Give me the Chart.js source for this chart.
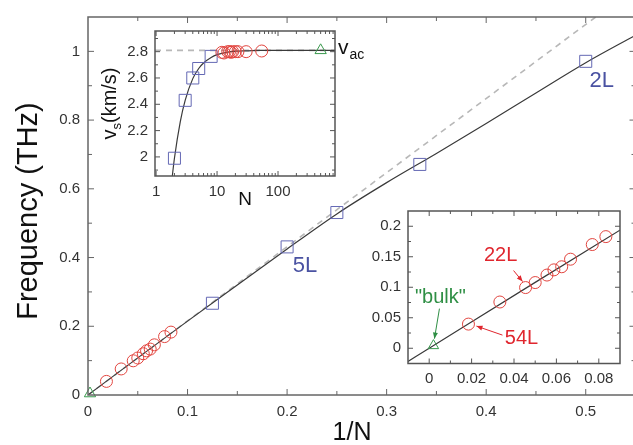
<!DOCTYPE html>
<html><head><meta charset="utf-8">
<script src="https://cdn.jsdelivr.net/npm/chart.js@4.4.1/dist/chart.umd.min.js"></script>
<style>
html,body{margin:0;padding:0;background:#fff;overflow:hidden;width:633px;height:445px;}
#wrap{position:relative;width:633px;height:445px;overflow:hidden;background:#fff;}
canvas{position:absolute;display:block;}
</style></head><body>
<div id="wrap">
<canvas id="main" width="645" height="445" style="left:0;top:0;width:645px;height:445px"></canvas>
<canvas id="in1" width="300" height="200" style="left:90px;top:15px;width:300px;height:200px"></canvas>
<canvas id="in2" width="273" height="200" style="left:360px;top:195px;width:273px;height:200px"></canvas>
</div>
<script>
// ---------- data ----------
const fewLayerN = [2, 3, 4, 5, 8];
const fewLayerFreq = [0.971, 0.671, 0.531, 0.431, 0.267];
const fewLayerVs = [1.99, 2.43, 2.60, 2.672, 2.764];
const manyLayerN = [12, 13, 15, 16, 17, 18, 20, 22, 30, 54];
const manyLayerFreq = [0.183, 0.170, 0.146, 0.1336, 0.1285, 0.120, 0.1077, 0.0995, 0.0758, 0.0396];
const manyLayerVs = [2.795, 2.79, 2.80, 2.80, 2.795, 2.80, 2.80, 2.80, 2.80, 2.805];
const bulkN = [500];
const bulkFreq = [0.0043];
const bulkVs = [2.81];
const fitInvN = [-0.01, 0, 0.05, 0.1, 0.15, 0.2, 0.25, 0.3, 0.35, 0.4, 0.45, 0.5, 0.55];
const fitFreq = [-0.0216, 0, 0.108, 0.215, 0.32, 0.425, 0.527, 0.618, 0.703, 0.79, 0.879, 0.967, 1.047];
const linearInvN = [0, 0.51];
const linearFreq = [0, 1.1];
const vsCurveN = [1.8, 2, 2.5, 3, 4, 5, 6, 8, 10, 15, 20, 30, 50, 100, 860];
const vsCurve = [1.81, 1.99, 2.27, 2.43, 2.595, 2.672, 2.714, 2.756, 2.777, 2.797, 2.803, 2.806, 2.809, 2.81, 2.81];
const vacN = [0.96, 860];
const vacLine = [2.81, 2.81];
// ---------- tick labels ----------
const mainXTicks = [0, 0.1, 0.2, 0.3, 0.4, 0.5];
const mainXMinor = [0.05, 0.15, 0.25, 0.35, 0.45];
const mainYTicks = [0, 0.2, 0.4, 0.6, 0.8, 1];
const mainYMinor = [0.1, 0.3, 0.5, 0.7, 0.9];
const in1XTicks = [1, 10, 100];
const in1XMinor = [2, 3, 4, 5, 6, 7, 8, 9, 20, 30, 40, 50, 60, 70, 80, 90, 200, 300, 400, 500, 600, 700, 800];
const in1YTicks = [2, 2.2, 2.4, 2.6, 2.8];
const in1YMinor = [1.9, 2.1, 2.3, 2.5, 2.7, 2.9];
const in2XTicks = [0, 0.02, 0.04, 0.06, 0.08];
const in2XMinor = [0.01, 0.03, 0.05, 0.07];
const in2YTicks = [0, 0.05, 0.1, 0.15, 0.2];
const in2YMinor = [0.025, 0.075, 0.125, 0.175];

const FONT = "'Liberation Sans', Arial, Helvetica, sans-serif";
const RED = '#e2453f', BLUE = '#6468b4', GREEN = '#3a9a4e';
const inv = n => 1 / n;
const pts = (xs, ys, fx) => xs.map((x, i) => ({x: fx ? fx(x) : x, y: ys[i]}));
const fmt = v => String(+(+v).toFixed(3));

function makeFrame(name, c) {
  return {
    id: 'frame_' + name,
    beforeDraw(chart) {
      if (!c.fill) return;
      const {ctx, chartArea: a} = chart;
      ctx.save(); ctx.fillStyle = '#fff';
      ctx.fillRect(a.left, a.top, a.right - a.left, a.bottom - a.top);
      ctx.restore();
    },
    afterDatasetsDraw(chart) {
      const {ctx, chartArea: a, scales} = chart;
      const x = scales.x, y = scales.y;
      ctx.save();
      ctx.strokeStyle = c.color; ctx.lineWidth = c.lw;
      ctx.strokeRect(a.left, a.top, a.right - a.left, a.bottom - a.top);
      ctx.lineWidth = 1;
      ctx.beginPath();
      const tx = (vals, len) => vals.forEach(v => {
        const p = x.getPixelForValue(v);
        if (p < a.left + 1 || p > a.right - 1) return;
        ctx.moveTo(p, a.bottom); ctx.lineTo(p, a.bottom - len);
        ctx.moveTo(p, a.top); ctx.lineTo(p, a.top + len);
      });
      const ty = (vals, len) => vals.forEach(v => {
        const p = y.getPixelForValue(v);
        if (p < a.top + 1 || p > a.bottom - 1) return;
        ctx.moveTo(a.left, p); ctx.lineTo(a.left + len, p);
        ctx.moveTo(a.right, p); ctx.lineTo(a.right - len, p);
      });
      tx(c.xMajor, c.major); tx(c.xMinor, c.minor);
      ty(c.yMajor, c.major); ty(c.yMinor, c.minor);
      ctx.stroke();
      ctx.restore();
    },
    afterDraw(chart) { if (c.annotate) c.annotate(chart); }
  };
}

function arrow(ctx, x1, y1, x2, y2, color) {
  ctx.save();
  ctx.strokeStyle = color; ctx.fillStyle = color; ctx.lineWidth = 1;
  ctx.beginPath(); ctx.moveTo(x1, y1); ctx.lineTo(x2, y2); ctx.stroke();
  const ang = Math.atan2(y2 - y1, x2 - x1), L = 6, W = 2.5;
  ctx.beginPath();
  ctx.moveTo(x2, y2);
  ctx.lineTo(x2 - L * Math.cos(ang) + W * Math.sin(ang), y2 - L * Math.sin(ang) - W * Math.cos(ang));
  ctx.lineTo(x2 - L * Math.cos(ang) - W * Math.sin(ang), y2 - L * Math.sin(ang) + W * Math.cos(ang));
  ctx.closePath(); ctx.fill();
  ctx.restore();
}

function fixedScale(type, min, max, ticksArr, fontSize, pad, fitSize, horizontal) {
  return {
    type, min, max,
    grid: {display: false, drawTicks: false},
    border: {display: false},
    ticks: {
      font: {family: FONT, size: fontSize}, color: '#333', padding: pad,
      autoSkip: false, maxRotation: 0, includeBounds: false,
      callback: v => fmt(v)
    },
    afterBuildTicks: s => { s.ticks = ticksArr.map(v => ({value: v})); },
    afterFit: s => { if (horizontal) s.height = fitSize; else s.width = fitSize; }
  };
}

const markerCircle = {pointStyle: 'circle', pointRadius: 6, borderColor: RED, backgroundColor: 'rgba(0,0,0,0)', pointBorderWidth: 1, showLine: false, clip: false};
const markerSquare = {pointStyle: 'rect', pointRadius: 8.5, borderColor: BLUE, backgroundColor: 'rgba(0,0,0,0)', pointBorderWidth: 1, showLine: false, clip: false};
const markerTri = {pointStyle: 'triangle', pointRadius: 6.5, borderColor: GREEN, backgroundColor: 'rgba(0,0,0,0)', pointBorderWidth: 1, showLine: false, clip: false};
const fitLine = {borderColor: '#3a3a3a', borderWidth: 1.2, pointRadius: 0, showLine: true, cubicInterpolationMode: 'monotone', fill: false};
const dashLine = {borderColor: '#b8b8b8', borderWidth: 1.6, borderDash: [6, 5], pointRadius: 0, showLine: true, fill: false};

// ---------- main chart ----------
new Chart(document.getElementById('main'), {
  type: 'scatter',
  data: {datasets: [
    Object.assign({label: 'bulk', data: pts(bulkN, bulkFreq, inv)}, markerTri),
    Object.assign({label: 'many', data: pts(manyLayerN, manyLayerFreq, inv)}, markerCircle),
    Object.assign({label: 'few', data: pts(fewLayerN, fewLayerFreq, inv)}, markerSquare),
    Object.assign({label: 'fit', data: pts(fitInvN, fitFreq)}, fitLine),
    Object.assign({label: 'linear', data: pts(linearInvN, linearFreq)}, dashLine)
  ]},
  options: {
    responsive: false, animation: false, devicePixelRatio: 1,
    layout: {padding: {top: 10, right: 7, left: 0, bottom: 0}},
    plugins: {legend: {display: false}, tooltip: {enabled: false}},
    scales: {
      x: fixedScale('linear', 0, 0.55, mainXTicks, 15, 8, 50, true),
      y: fixedScale('linear', 0, 1.1, mainYTicks, 15, 8, 88, false)
    }
  },
  plugins: [makeFrame('main', {
    color: '#666', lw: 1.5, major: 6, minor: 4,
    xMajor: mainXTicks, xMinor: mainXMinor, yMajor: mainYTicks, yMinor: mainYMinor,
    annotate(chart) {
      const {ctx, scales: {x, y}} = chart;
      ctx.save();
      ctx.fillStyle = '#4a52a2';
      ctx.font = `22px ${FONT}`; ctx.textAlign = 'center'; ctx.textBaseline = 'middle';
      ctx.fillText('2L', x.getPixelForValue(inv(2)) + 16, y.getPixelForValue(fewLayerFreq[0]) + 20);
      ctx.fillText('5L', x.getPixelForValue(inv(5)) + 18, y.getPixelForValue(fewLayerFreq[3]) + 19);
      ctx.fillStyle = '#111';
      ctx.font = `25px ${FONT}`; ctx.textBaseline = 'alphabetic';
      ctx.fillText('1/N', 352, 440);
      ctx.translate(37, 211); ctx.rotate(-Math.PI / 2);
      ctx.font = `29px ${FONT}`;
      ctx.fillText('Frequency (THz)', 0, 0);
      ctx.restore();
    }
  })]
});

// ---------- inset 1: sound velocity vs N ----------
new Chart(document.getElementById('in1'), {
  type: 'scatter',
  data: {datasets: [
    Object.assign({label: 'bulk', data: pts(bulkN, bulkVs)}, markerTri),
    Object.assign({label: 'many', data: pts(manyLayerN, manyLayerVs)}, markerCircle),
    Object.assign({label: 'few', data: pts(fewLayerN, fewLayerVs)}, markerSquare),
    Object.assign({label: 'fit', data: pts(vsCurveN, vsCurve)}, fitLine),
    Object.assign({label: 'vac', data: pts(vacN, vacLine)}, dashLine)
  ]},
  options: {
    responsive: false, animation: false, devicePixelRatio: 1,
    layout: {padding: {top: 8, right: 55, left: 0, bottom: 0}},
    plugins: {legend: {display: false}, tooltip: {enabled: false}},
    scales: {
      x: fixedScale('logarithmic', 0.96, 860, in1XTicks, 15, 7, 39, true),
      y: fixedScale('linear', 1.855, 2.957, in1YTicks, 15, 7, 65, false)
    }
  },
  plugins: [makeFrame('in1', {
    fill: true, color: '#555', lw: 1.5, major: 5, minor: 3,
    xMajor: in1XTicks, xMinor: in1XMinor, yMajor: in1YTicks, yMinor: in1YMinor,
    annotate(chart) {
      const {ctx, chartArea: a, scales: {y}} = chart;
      ctx.save();
      ctx.fillStyle = '#111'; ctx.textBaseline = 'alphabetic';
      // v_ac label
      const vy = y.getPixelForValue(vacLine[0]);
      ctx.font = `21px ${FONT}`; ctx.textAlign = 'left';
      ctx.fillText('v', a.right + 3, vy + 4);
      const vw = ctx.measureText('v').width;
      ctx.font = `14px ${FONT}`;
      ctx.fillText('ac', a.right + 3 + vw + 1, vy + 9);
      // N title
      ctx.font = `19px ${FONT}`; ctx.textAlign = 'center';
      ctx.fillText('N', (a.left + a.right) / 2, 190);
      // y title
      ctx.translate(26, (a.top + a.bottom) / 2); ctx.rotate(-Math.PI / 2);
      ctx.font = `20px ${FONT}`;
      const w1 = ctx.measureText('v').width;
      ctx.font = `13px ${FONT}`;
      const w2 = ctx.measureText('s').width;
      ctx.font = `20px ${FONT}`;
      const w3 = ctx.measureText('(km/s)').width;
      let sx = -(w1 + w2 + w3) / 2;
      ctx.textAlign = 'left';
      ctx.fillText('v', sx, 0);
      ctx.font = `13px ${FONT}`;
      ctx.fillText('s', sx + w1, 5);
      ctx.font = `20px ${FONT}`;
      ctx.fillText('(km/s)', sx + w1 + w2, 0);
      ctx.restore();
    }
  })]
});

// ---------- inset 2: zoom near 1/N = 0 ----------
new Chart(document.getElementById('in2'), {
  type: 'scatter',
  data: {datasets: [
    Object.assign({label: 'bulk', data: pts(bulkN, bulkFreq, inv)}, markerTri, {pointRadius: 6}),
    Object.assign({label: 'many', data: pts(manyLayerN, manyLayerFreq, inv)}, markerCircle),
    Object.assign({label: 'fit', data: pts(fitInvN, fitFreq)}, fitLine)
  ]},
  options: {
    responsive: false, animation: false, devicePixelRatio: 1,
    layout: {padding: {top: 8, right: 13, left: 0, bottom: 0}},
    plugins: {legend: {display: false}, tooltip: {enabled: false}},
    scales: {
      x: fixedScale('linear', -0.01, 0.09, in2XTicks, 15, 6, 31.5, true),
      y: fixedScale('linear', -0.025, 0.225, in2YTicks, 15, 7, 48, false)
    }
  },
  plugins: [makeFrame('in2', {
    fill: true, color: '#555', lw: 1.5, major: 5, minor: 3,
    xMajor: in2XTicks, xMinor: in2XMinor, yMajor: in2YTicks, yMinor: in2YMinor,
    annotate(chart) {
      const {ctx, scales: {x, y}} = chart;
      const p22x = x.getPixelForValue(inv(22)), p22y = y.getPixelForValue(manyLayerFreq[7]);
      const p54x = x.getPixelForValue(inv(54)), p54y = y.getPixelForValue(manyLayerFreq[9]);
      const pbx = x.getPixelForValue(inv(bulkN[0])), pby = y.getPixelForValue(bulkFreq[0]);
      ctx.save();
      ctx.font = `20px ${FONT}`; ctx.textAlign = 'center'; ctx.textBaseline = 'middle';
      ctx.fillStyle = '#e0262e';
      ctx.fillText('22L', p22x - 25, p22y - 32);
      ctx.fillText('54L', p54x + 53, p54y + 14);
      ctx.fillStyle = '#2f8f45';
      ctx.fillText('"bulk"', pbx + 7, pby - 48);
      ctx.restore();
      arrow(ctx, p22x - 12, p22y - 17, p22x - 3, p22y - 6, '#e0262e');
      arrow(ctx, p54x + 34, p54y + 11, p54x + 8, p54y + 2, '#e0262e');
      arrow(ctx, pbx + 6, pby - 37, pbx + 1, pby - 7, '#2f8f45');
    }
  })]
});
</script>
</body></html>
